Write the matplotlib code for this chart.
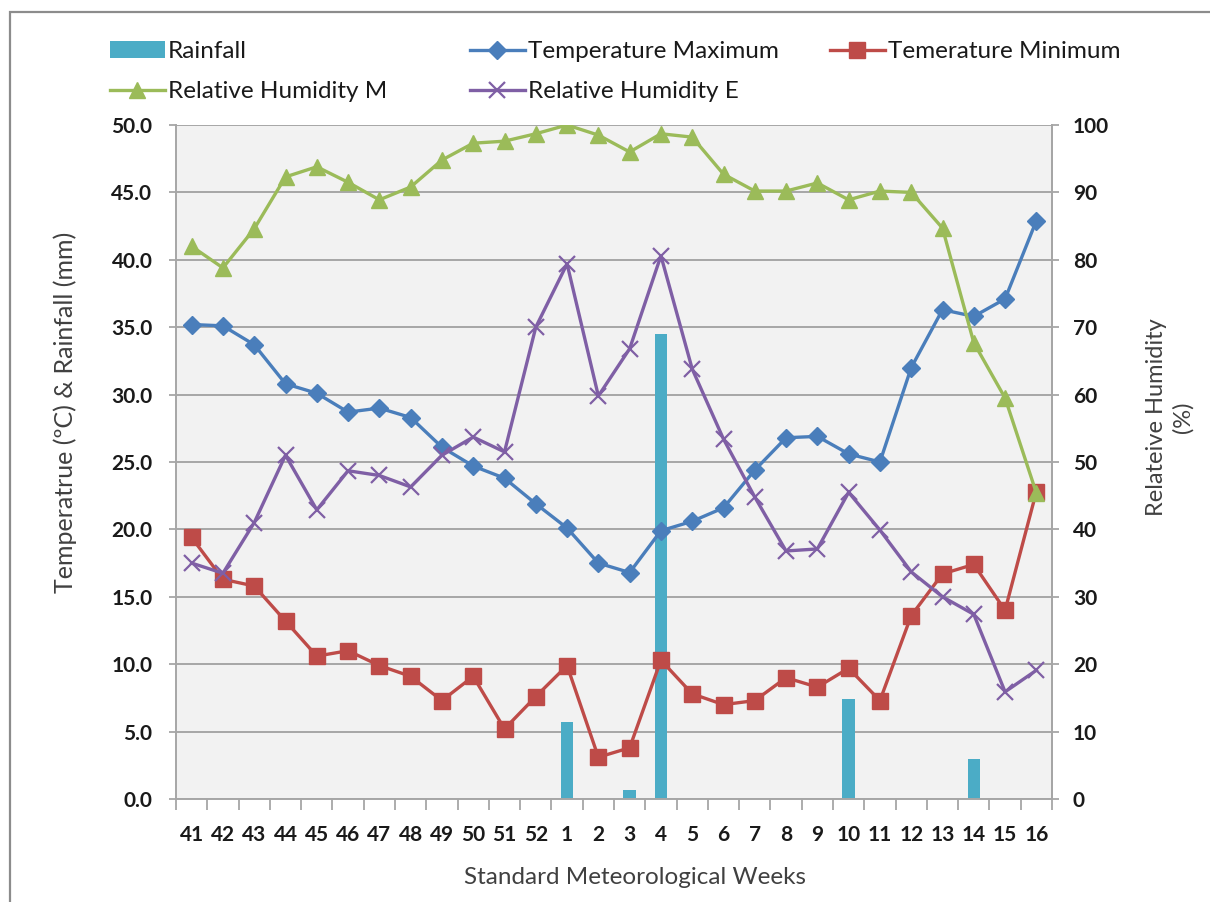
import matplotlib
matplotlib.use("Agg")
import matplotlib.pyplot as plt
import matplotlib.patches as mpatches
import numpy as np

plt.rcParams['font.family'] = ['Lato', 'DejaVu Sans']

weeks = ['41', '42', '43', '44', '45', '46', '47', '48', '49', '50', '51', '52',
         '1', '2', '3', '4', '5', '6', '7', '8', '9', '10', '11', '12', '13', '14', '15', '16']

rainfall = [0, 0, 0, 0, 0, 0, 0, 0, 0, 0, 0, 0,
            5.7, 0, 0.7, 34.5, 0, 0, 0, 0, 0, 7.4, 0, 0, 0, 3.0, 0, 0]

temp_max = [35.2, 35.1, 33.7, 30.8, 30.1, 28.7, 29.0, 28.3, 26.1, 24.7, 23.8, 21.9,
            20.1, 17.5, 16.8, 19.9, 20.6, 21.6, 24.4, 26.8, 26.9, 25.6, 25.0, 32.0,
            36.3, 35.8, 37.1, 42.9]

temp_min = [19.4, 16.3, 15.8, 13.2, 10.6, 11.0, 9.9, 9.1, 7.3, 9.1, 5.2, 7.6,
            9.9, 3.1, 3.8, 10.3, 7.8, 7.0, 7.3, 9.0, 8.3, 9.7, 7.3, 13.6,
            16.7, 17.4, 14.0, 22.8]

rh_morning = [82.0, 78.8, 84.6, 92.3, 93.8, 91.5, 88.9, 90.8, 94.8, 97.3, 97.6, 98.7,
              100.0, 98.5, 96.0, 98.7, 98.2, 92.7, 90.2, 90.2, 91.4, 88.9, 90.2, 90.0,
              84.7, 67.7, 59.5, 45.4]

rh_evening = [35.0, 33.5, 41.0, 51.0, 42.9, 48.7, 48.0, 46.3, 51.0, 53.7, 51.5, 70.0,
              79.4, 59.8, 66.8, 80.6, 63.8, 53.4, 44.8, 36.8, 37.1, 45.5, 39.9, 33.7,
              30.0, 27.4, 15.9, 19.1]

c_rain = '#4BACC6'
c_tmax = '#4A7EBB'
c_tmin = '#BE4B48'
c_rhm = '#9BBB59'
c_rhe = '#7F5FA5'
text_c = '#1a1a1a'
label_c = '#404040'

W, H = 1210, 902
fig = plt.figure(figsize=(W / 100, H / 100), dpi=100)

# outer chart frame
fig.patches.append(mpatches.Rectangle((10 / W, -0.1), 2.0, 1 - 12 / H + 0.1,
                                      transform=fig.transFigure, fill=False,
                                      edgecolor='#8c8c8c', linewidth=1.6))

ax = fig.add_axes([176 / W, 1 - 799 / H, (1052 - 176) / W, (799 - 125) / H])
ax.set_facecolor('#F2F2F2')
x = np.arange(len(weeks))

bars = ax.bar(x, rainfall, width=0.4, color=c_rain, zorder=2, label='Rainfall')
l_tmax, = ax.plot(x, temp_max, color=c_tmax, lw=2.4, marker='D', ms=9,
                  zorder=3, label='Temperature Maximum')
l_tmin, = ax.plot(x, temp_min, color=c_tmin, lw=2.4, marker='s', ms=11,
                  zorder=3, label='Temerature Minimum')

ax.set_xlim(-0.5, len(weeks) - 0.5)
ax.set_ylim(0, 50)
ax.set_yticks(np.arange(0, 50.1, 5))
ax.set_yticklabels([f'{v:.1f}' for v in np.arange(0, 50.1, 5)], fontweight='bold')
ax.yaxis.grid(True, color='#a6a6a6', lw=1.4, zorder=0)
ax.set_axisbelow(True)

ax.set_xticks(x)
ax.set_xticklabels(weeks, fontweight='bold')
ax.set_xticks(np.arange(-0.5, len(weeks), 1), minor=True)
ax.tick_params(axis='x', which='major', length=0, pad=19, labelsize=15, colors=text_c)
ax.tick_params(axis='x', which='minor', length=8, width=1.3, color='#a6a6a6')
ax.tick_params(axis='y', length=5, width=1.3, color='#a6a6a6', labelsize=15,
               labelcolor=text_c, pad=12)

for side in ['left', 'bottom', 'right']:
    ax.spines[side].set_color('#a6a6a6')
    ax.spines[side].set_linewidth(1.4)
ax.spines['top'].set_visible(False)

ax2 = ax.twinx()
ax2.set_ylim(0, 100)
ax2.set_yticks(np.arange(0, 101, 10))
ax2.set_yticklabels([str(v) for v in range(0, 101, 10)], fontweight='bold')
ax2.tick_params(axis='y', length=5, width=1.3, color='#a6a6a6', labelsize=15,
                labelcolor=text_c, pad=10)
for side in ['left', 'bottom', 'top']:
    ax2.spines[side].set_visible(False)
ax2.spines['right'].set_color('#a6a6a6')
ax2.spines['right'].set_linewidth(1.4)

l_rhm, = ax2.plot(x, rh_morning, color=c_rhm, lw=2.4, marker='^', ms=12,
                  zorder=3, label='Relative Humidity M')
l_rhe, = ax2.plot(x, rh_evening, color=c_rhe, lw=2.4, marker='x', ms=12, mew=1.6,
                  zorder=3, label='Relative Humidity E')

ax.set_ylabel('Temperatrue (ºC) & Rainfall (mm)', fontsize=18, color=label_c,
              va='center')
ax.yaxis.set_label_coords((65 - 176) / 876, (799 - 412) / 674)
ax2.set_ylabel('Relateive Humidity\n(%)', fontsize=17, color=label_c,
               rotation=90, linespacing=1.3, va='center')
ax2.yaxis.set_label_coords((1170 - 176) / 876, (799 - 417) / 674)
ax.set_xlabel('Standard Meteorological Weeks', fontsize=17.5, color=label_c, va='center')
ax.xaxis.set_label_coords((635 - 176) / 876, (799 - 878) / 674)

# legend, three columns laid out row by row
leg_kw = dict(frameon=False, fontsize=17.5, handlelength=2.25, handletextpad=0.12,
              labelspacing=0.8, borderaxespad=0, borderpad=0)
cols = [([bars, l_rhm], 110), ([l_tmax, l_rhe], 470), ([l_tmin], 830)]
for handles, px in cols:
    lg = fig.legend(handles=handles, labels=[h.get_label() for h in handles],
                    loc='upper left', bbox_to_anchor=(px / W, 1 - 41 / H), **leg_kw)
    for t in lg.get_texts():
        t.set_color(text_c)

fig.savefig('out.png', dpi=100)
